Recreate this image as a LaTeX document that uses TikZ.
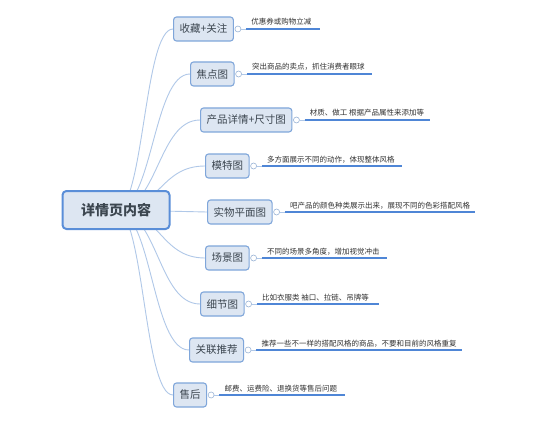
\documentclass[tikz,border=0pt]{standalone}
\usepackage{fontspec}
\setmainfont{Noto Sans CJK SC}
\usetikzlibrary{backgrounds}
\definecolor{boxfill}{HTML}{DDE6F2}
\definecolor{boxborder}{HTML}{7FA6DA}
\definecolor{rootborder}{HTML}{5A8ED8}
\definecolor{branchc}{HTML}{B0C8E8}
\definecolor{knobc}{HTML}{9AB4D6}
\definecolor{ulinec}{HTML}{4F86D6}
\definecolor{textc}{HTML}{3C4650}
\definecolor{notec}{HTML}{333333}
\begin{document}
\begin{tikzpicture}[x=1pt,y=-1pt,
  topic/.style={draw=boxborder, fill=boxfill, rounded corners=3pt, line width=1.1pt,
    minimum height=24pt, inner xsep=6pt, font=\fontsize{10.5}{12}\selectfont, text=textc, anchor=west},
  root/.style={draw=rootborder, fill=boxfill, rounded corners=4pt, line width=2pt,
    minimum width=107pt, minimum height=38pt, font=\fontsize{14}{16}\selectfont\bfseries, text=textc},
  branch/.style={draw=branchc, line width=0.9pt},
  knob/.style={circle, draw=knobc, fill=white, inner sep=0pt, minimum size=6pt, line width=0.6pt},
  uline/.style={draw=ulinec, line width=1.8pt},
  note/.style={font=\fontsize{7.5}{9}\selectfont, text=notec, anchor=base west, inner sep=0pt}]
\useasboundingbox (0,0) rectangle (554,441);

\node[root] (r) at (116,210) {详情页内容};

\node[topic] (n1) at (173,29) {收藏+关注};
\node[topic] (n2) at (190,74) {焦点图};
\node[topic] (n3) at (200,120) {产品详情+尺寸图};
\node[topic] (n4) at (205,166) {模特图};
\node[topic] (n5) at (207,212) {实物平面图};
\node[topic] (n6) at (205,258) {场景图};
\node[topic] (n7) at (200,304) {细节图};
\node[topic] (n8) at (189,350) {关联推荐};
\node[topic] (n9) at (173,395) {售后};

\begin{scope}[on background layer]
\fill[white] (0,0) rectangle (554,441);
\draw[branch] (r.center) .. controls (144,210) and (144,29) .. (n1.west);
\draw[branch] (r.center) .. controls (153,210) and (153,74) .. (n2.west);
\draw[branch] (r.center) .. controls (158,210) and (158,120) .. (n3.west);
\draw[branch] (r.center) .. controls (160,210) and (160,166) .. (n4.west);
\draw[branch] (r.center) -- (n5.west);
\draw[branch] (r.center) .. controls (160,210) and (160,258) .. (n6.west);
\draw[branch] (r.center) .. controls (158,210) and (158,304) .. (n7.west);
\draw[branch] (r.center) .. controls (152,210) and (152,350) .. (n8.west);
\draw[branch] (r.center) .. controls (144,210) and (144,395) .. (n9.west);
\end{scope}

\foreach \n/\e/\t in {
  n1/320/优惠券或购物立减,
  n2/372/突出商品的卖点，抓住消费者眼球,
  n3/430/材质、做工 根据产品属性来添加等,
  n4/402/多方面展示不同的动作，体现整体风格,
  n5/475/吧产品的颜色种类展示出来，展现不同的色彩搭配风格,
  n6/387/不同的场景多角度，增加视觉冲击,
  n7/379/比如衣服类 袖口、拉链、吊牌等,
  n8/462/推荐一些不一样的搭配风格的商品，不要和目前的风格重复,
  n9/345/邮费、运费险、退换货等售后问题}{
  \node[knob] (\n k) at ([xshift=4pt]\n.east) {};
  \coordinate (\n s) at ([xshift=5pt]\n k.east);
  \draw[branch, line width=0.6pt] (\n k.east) -- (\n s);
  \draw[uline] (\n s) -- (\n s -| \e,0);
  \node[note] (\n t) at ([xshift=5pt, yshift=4pt]\n s) {\t};
}
\end{tikzpicture}
\end{document}
